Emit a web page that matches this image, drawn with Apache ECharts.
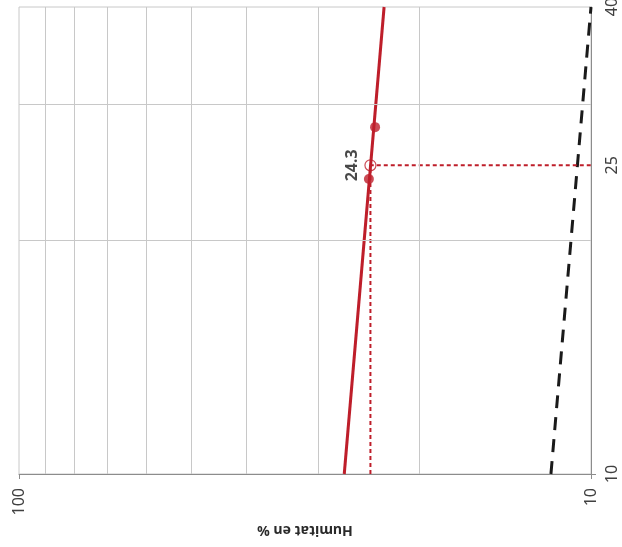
<!DOCTYPE html>
<html>
<head>
<meta charset="utf-8">
<script src="https://cdn.jsdelivr.net/npm/echarts@6/dist/echarts.min.js"></script>
<style>
html,body{margin:0;padding:0;background:#fff;}
#chart{width:622px;height:547px;}
</style>
</head>
<body>
<div id="chart"></div>
<script>
// ---- data ----
const humidityTicks = [100, 10];
const blowsTicks = [10, 25, 40];
const humidityGrid = [90, 80, 70, 60, 50, 40, 30, 20];
const blowsGrid = [20, 30];
const testBlows = [28, 24];
const testHumidity = [23.85, 24.45];
const trendBlows = [10, 40];
const trendHumidity = [27.0, 23.0];
const refBlows = [10, 40];
const refHumidity = [11.75, 10.0];
const limitBlows = 25;
const limitHumidity = 24.3;
const limitLabel = '24.3';
const humidityAxisName = 'Humitat en %';

const RED = '#be1e2a';
const FONT = 'Noto Sans';

const zip = (xs, ys) => xs.map((x, i) => [x, ys[i]]);

const chart = echarts.init(document.getElementById('chart'), null, {renderer: 'canvas'});

const gridLines = humidityGrid.map(v => ({xAxis: v}))
  .concat(blowsGrid.map(v => ({yAxis: v})));

chart.setOption({
  animation: false,
  backgroundColor: '#fff',
  grid: {
    left: 19, right: 31, top: 7, bottom: 73,
    outerBoundsMode: 'none', containLabel: false,
    show: true, borderColor: '#c8c8c8', borderWidth: 1, backgroundColor: 'transparent'
  },
  xAxis: {
    type: 'log', logBase: 10, min: 10, max: 100, inverse: true, position: 'bottom',
    name: humidityAxisName, nameLocation: 'middle', nameGap: 48, nameRotate: 180,
    nameTextStyle: {fontFamily: FONT, fontSize: 14, fontWeight: 'bold', color: '#2a2a2a'},
    axisLine: {show: true, lineStyle: {color: '#8c8c8c', width: 1}},
    axisTick: {show: true, length: 5, lineStyle: {color: '#8c8c8c'}},
    axisLabel: {
      show: true, rotate: 90, margin: 14, fontFamily: FONT, fontSize: 16, color: '#404040',
      customValues: humidityTicks, formatter: v => String(Math.round(v))
    },
    splitLine: {show: false}, minorSplitLine: {show: false}
  },
  yAxis: {
    type: 'log', logBase: 10, min: 10, max: 40, position: 'right',
    axisLine: {show: true, lineStyle: {color: '#8c8c8c', width: 1}},
    axisTick: {show: true, length: 5, lineStyle: {color: '#8c8c8c'}, customValues: [blowsTicks[0]]},
    axisLabel: {
      show: true, rotate: 90, margin: 13, fontFamily: FONT, fontSize: 16, color: '#404040',
      customValues: blowsTicks, formatter: v => String(Math.round(v)),
      showMinLabel: true, showMaxLabel: true
    },
    splitLine: {show: false}
  },
  series: [
    {
      type: 'line', data: [], z: 1, silent: true,
      markLine: {
        silent: true, symbol: ['none', 'none'], label: {show: false},
        lineStyle: {type: 'solid', color: '#c8c8c8', width: 1},
        emphasis: {disabled: true},
        data: gridLines
      }
    },
    {
      type: 'line', data: zip(refHumidity, refBlows), z: 3, showSymbol: false, silent: true,
      lineStyle: {color: '#1a1a1a', width: 3, type: [13, 9]}
    },
    {
      type: 'line', data: [[limitHumidity, trendBlows[0]], [limitHumidity, limitBlows], [10, limitBlows]],
      z: 3, showSymbol: false, silent: true,
      lineStyle: {color: RED, width: 2, type: [4, 3]}
    },
    {
      type: 'line', data: zip(trendHumidity, trendBlows), z: 4, showSymbol: false, silent: true,
      lineStyle: {color: RED, width: 3}
    },
    {
      type: 'scatter', data: zip(testHumidity, testBlows), z: 5, symbol: 'circle', symbolSize: 10,
      itemStyle: {color: RED}, silent: true
    },
    {
      type: 'scatter', data: [[limitHumidity, limitBlows]], z: 6, symbol: 'circle', symbolSize: 11,
      itemStyle: {color: 'none', borderColor: RED, borderWidth: 1.2}, silent: true,
      label: {
        show: true, position: 'left', distance: 2, rotate: 90, align: 'center', verticalAlign: 'bottom',
        formatter: limitLabel, fontFamily: FONT, fontSize: 16, fontWeight: 'bold', color: '#1a1a1a'
      }
    }
  ]
});
</script>
</body>
</html>
